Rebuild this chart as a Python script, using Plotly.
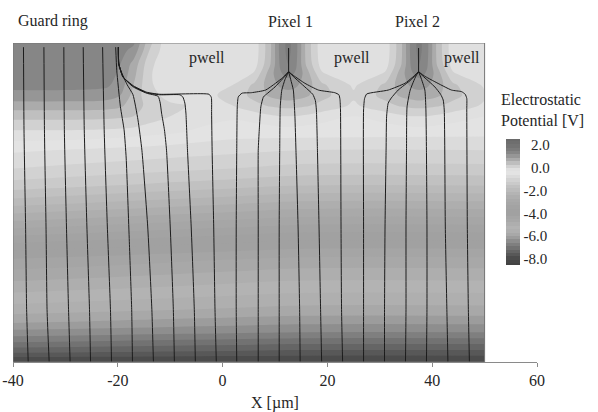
import plotly.graph_objects as go

# ---------------- data ----------------
# near-surface potential grid (x in um, depth in um from the top surface)
surface_x_um = [-40, -30, -22, -19.5, -17, -14, -10, -4, 2, 6, 9, 11, 12.5, 14, 16, 19,
                25, 31, 34, 36, 37.5, 39, 41, 44, 50]
surface_depth_um = [0, 1.5, 4, 6, 8, 10, 12, 14, 17]
surface_potential_v = [
    [1.4, 1.4, 1.4, 1.4, 1.25, 0.4, -0.3, -0.3, -0.3, -0.2, 0.5, 1.3, 1.6, 1.3, 0.5, -0.2, -0.3, -0.2, 0.5, 1.3, 1.6, 1.3, 0.5, -0.2, -0.3],
    [1.35, 1.35, 1.35, 1.3, 1.1, 0.3, -0.3, -0.3, -0.3, -0.2, 0.5, 1.3, 1.6, 1.3, 0.5, -0.2, -0.3, -0.2, 0.5, 1.3, 1.6, 1.3, 0.5, -0.2, -0.3],
    [1.3, 1.3, 1.3, 1.2, 0.8, 0.1, -0.3, -0.3, -0.3, -0.15, 0.55, 1.25, 1.5, 1.25, 0.55, -0.15, -0.3, -0.15, 0.55, 1.25, 1.5, 1.25, 0.55, -0.15, -0.3],
    [1.3, 1.3, 1.3, 1.15, 0.7, 0.05, -0.3, -0.3, -0.25, 0.05, 0.75, 1.15, 1.3, 1.15, 0.75, 0.05, -0.25, 0.05, 0.75, 1.15, 1.3, 1.15, 0.75, 0.05, -0.25],
    [1.3, 1.3, 1.25, 1.05, 0.6, 0.05, -0.2, -0.25, 0.0, 0.35, 0.75, 0.95, 1.0, 0.95, 0.75, 0.35, -0.05, 0.35, 0.75, 0.95, 1.0, 0.95, 0.75, 0.35, -0.05],
    [1.1, 1.1, 1.05, 0.9, 0.5, 0.1, -0.1, -0.1, 0.1, 0.4, 0.65, 0.75, 0.8, 0.75, 0.65, 0.4, 0.05, 0.4, 0.65, 0.75, 0.8, 0.75, 0.65, 0.4, 0.05],
    [0.75, 0.75, 0.72, 0.65, 0.45, 0.2, 0.05, -0.05, 0.0, 0.2, 0.33, 0.38, 0.4, 0.38, 0.33, 0.2, -0.05, 0.2, 0.33, 0.38, 0.4, 0.38, 0.33, 0.2, -0.05],
    [0.4, 0.4, 0.38, 0.35, 0.3, 0.15, 0.0, -0.2, -0.25, -0.15, -0.05, 0.0, 0.0, 0.0, -0.05, -0.15, -0.3, -0.15, -0.05, 0.0, 0.0, 0.0, -0.05, -0.15, -0.3],
    [-0.05, -0.05, -0.08, -0.1, -0.12, -0.18, -0.25, -0.35, -0.45, -0.5, -0.48, -0.45, -0.45, -0.45, -0.48, -0.5, -0.5, -0.5, -0.48, -0.45, -0.45, -0.45, -0.48, -0.5, -0.5],
]
# bulk potential (coarser in x)
bulk_x_um = [-40, -25, -10, 2, 15, 50]
bulk_depth_um = [17, 20.5, 24, 27, 30, 35, 38, 41.5, 47, 51, 53.3, 55.3, 57.2, 59.1, 61]
bulk_potential_v = [
    [-0.05, -0.07, -0.25, -0.45, -0.46, -0.5],
    [-0.55, -0.65, -0.74, -0.82, -0.9, -0.9],
    [-0.9, -1.01, -1.12, -1.2, -1.3, -1.3],
    [-1.3, -1.42, -1.55, -1.64, -1.75, -1.75],
    [-1.85, -1.99, -2.12, -2.23, -2.35, -2.35],
    [-2.9, -3.02, -3.15, -3.24, -3.35, -3.35],
    [-3.55, -3.66, -3.77, -3.85, -3.95, -3.95],
    [-4.25, -4.34, -4.44, -4.52, -4.6, -4.6],
    [-5.0, -5.08, -5.16, -5.23, -5.3, -5.3],
    [-5.55, -5.62, -5.69, -5.74, -5.8, -5.8],
    [-5.95, -6.02, -6.09, -6.14, -6.2, -6.2],
    [-6.4, -6.45, -6.51, -6.55, -6.6, -6.6],
    [-6.9, -6.95, -7.01, -7.05, -7.1, -7.1],
    [-7.45, -7.49, -7.53, -7.56, -7.6, -7.6],
    [-8.15, -8.15, -8.15, -8.15, -8.15, -8.15],
]

# grey scale of the colour bar (value in V -> grey)
scale_values_v = [-8.55, -8.0, -7.5, -7.1, -6.6, -6.2, -5.8, -5.3, -4.7, -4.0, -3.3, -2.7,
                  -2.2, -1.7, -1.3, -0.9, -0.6, -0.3, 0.0, 0.3, 0.6, 0.9, 1.2, 1.6, 2.0, 2.55]
scale_greys = ["#424242", "#4a4a4a", "#5e5e5e", "#707070", "#868686", "#9a9a9a", "#aaaaaa",
               "#b4b4b4", "#a9a9a9", "#a0a0a0", "#a4a4a4", "#ababab", "#b5b5b5", "#c0c0c0",
               "#cbcbcb", "#d6d6d6", "#e0e0e0", "#e6e6e6", "#d9d9d9", "#c8c8c8", "#b5b5b5",
               "#a0a0a0", "#8c8c8c", "#7c7c7c", "#727272", "#6a6a6a"]
colorbar_ticks = [2, 0, -2, -4, -6, -8]
colorbar_ticktext = ["\u20072.0", "\u20070.0", "-2.0", "-4.0", "-6.0", "-8.0"]

# electric field lines: (x um, depth um)
pixel_stems = [
    [(12.6, 0.96), (12.6, 5.5)],
    [(37.4, 0.96), (37.4, 5.5)],
]
guard_ring_lines = [
    [(-38.0, 0.8), (-37.9, 16.6), (-37.6, 35), (-37.4, 51), (-37.1, 61)],
    [(-34.1, 0.8), (-34.0, 16.6), (-33.7, 35), (-33.5, 51), (-33.1, 61)],
    [(-30.3, 0.8), (-30.2, 16.6), (-29.8, 35), (-29.4, 51), (-29.1, 61)],
    [(-26.6, 0.8), (-26.4, 16.6), (-25.9, 35), (-25.4, 51), (-25.2, 61)],
    [(-22.9, 0.8), (-22.6, 16.6), (-22.0, 35), (-21.4, 51), (-21.2, 61)],
    [(-20.4, 0.8), (-20.2, 5.2), (-19.5, 12.2), (-18.8, 16.6), (-18.4, 22), (-17.8, 38), (-17.35, 51), (-17.2, 61)],
    [(-19.9, 0.8), (-19.85, 4.0), (-19.25, 5.7), (-18.2, 8.0), (-17.1, 9.9), (-16.15, 14.7), (-15.4, 20.5), (-14.3, 35), (-13.5, 51), (-13.2, 61)],
    [(-19.9, 0.8), (-19.8, 4.0), (-19.0, 6.5), (-17.05, 8.4), (-14.5, 9.6), (-12.3, 10.2), (-11.9, 11.5), (-11.65, 13.4), (-11.1, 16.6), (-10.7, 20.5), (-10.0, 35), (-9.4, 51), (-9.2, 61)],
    [(-19.9, 0.8), (-19.8, 4.0), (-19.0, 6.5), (-17.0, 8.3), (-14.5, 9.5), (-12.0, 9.9), (-8.2, 9.9), (-7.6, 10.3), (-7.2, 11.5), (-7.0, 13.4), (-6.7, 20.5), (-6.0, 35), (-5.4, 51), (-5.2, 61)],
    [(-19.9, 0.8), (-19.8, 4.0), (-19.0, 6.5), (-17.0, 8.2), (-14.5, 9.4), (-12.0, 9.8), (-2.6, 9.8), (-2.15, 10.4), (-2.1, 13.4), (-2.0, 20.5), (-1.7, 35), (-1.45, 51), (-1.2, 61)],
]
pixel1_lines = [
    [(12.6, 5.5), (11.5, 6.6), (10.1, 7.7), (8.2, 9.0), (5.5, 9.5), (3.7, 9.6), (3.0, 10.3), (2.8, 12.2), (2.7, 20.5), (2.6, 35), (2.6, 51), (2.7, 61)],
    [(12.6, 5.5), (11.5, 6.8), (10.0, 8.4), (8.6, 9.6), (7.8, 10.3), (7.3, 12.2), (7.0, 16.6), (6.8, 20.5), (6.8, 35), (6.8, 51), (6.8, 61)],
    [(12.6, 5.5), (11.9, 7.0), (11.3, 9.0), (11.0, 12.2), (10.9, 20.5), (10.8, 35), (10.8, 51), (10.8, 61)],
    [(12.6, 5.5), (13.0, 7.0), (13.5, 9.0), (13.8, 14), (14.0, 20.5), (14.4, 35), (14.7, 51), (14.8, 61)],
    [(12.6, 5.5), (13.6, 6.5), (15.7, 8.4), (17.2, 9.8), (17.7, 11), (17.9, 12.8), (18.1, 20.5), (18.4, 35), (18.7, 51), (18.9, 61)],
    [(12.6, 5.5), (13.5, 6.2), (15.7, 7.7), (18.3, 9.0), (21.4, 9.5), (22.2, 9.9), (22.4, 10.8), (22.5, 12.8), (22.6, 35), (22.7, 51), (22.9, 61)],
]
pixel2_lines = [
    [(37.4, 5.5), (36.2, 6.6), (34.8, 7.7), (31.6, 9.0), (27.5, 9.75), (27.1, 10.6), (26.9, 12.8), (26.9, 35), (26.9, 51), (26.9, 61)],
    [(37.4, 5.5), (36.0, 7.0), (33.5, 9.0), (32.2, 10.5), (31.6, 11.5), (31.3, 14), (31.2, 20.5), (31.0, 35), (30.9, 51), (30.9, 61)],
    [(37.4, 5.5), (36.9, 6.3), (35.8, 9.0), (35.2, 12.2), (35.1, 20.5), (35.0, 35), (35.0, 51), (34.9, 61)],
    [(37.4, 5.5), (37.8, 6.5), (38.6, 9.0), (38.8, 12.8), (38.9, 20.5), (39.0, 35), (39.0, 51), (38.9, 61)],
    [(37.4, 5.5), (38.2, 6.3), (40.5, 8.4), (41.6, 9.8), (42.1, 10.9), (42.3, 12.8), (42.5, 35), (42.8, 51), (43.0, 61)],
    [(37.4, 5.5), (38.5, 6.3), (40.5, 7.4), (43.7, 9.0), (45.6, 9.3), (46.3, 9.8), (46.6, 10.6), (46.6, 12.8), (46.7, 35), (46.9, 51), (47.1, 61)],
]

x_ticks = [-40, -20, 0, 20, 40, 60]
x_ticktext = ["-40", "-20", "0", "20", "40", "60"]
top_labels = ["Guard ring", "Pixel 1", "Pixel 2"]
top_label_x = [-32.4, 12.9, 37.1]
pwell_x = [-2.9, 24.7, 45.6]

# ---------------- figure ----------------
FONT = "Liberation Serif"
TXT = "#262626"
level_start, level_end, level_step = -8.4, 2.4, 0.3
lo, hi = level_start - level_step / 2, level_end + level_step / 2
colorscale = [[(v - lo) / (hi - lo), g] for v, g in zip(scale_values_v, scale_greys)]
contours = dict(start=level_start, end=level_end, size=level_step, coloring="fill", showlines=False)

fig = go.Figure()
fig.add_trace(go.Contour(
    x=bulk_x_um, y=bulk_depth_um, z=bulk_potential_v,
    colorscale=colorscale, zmin=lo, zmax=hi, contours=contours,
    line=dict(width=0, smoothing=1), showscale=False, hoverinfo="skip",
))
fig.add_trace(go.Contour(
    x=surface_x_um, y=surface_depth_um, z=surface_potential_v,
    colorscale=colorscale, zmin=lo, zmax=hi, contours=contours,
    line=dict(width=0, smoothing=1),
    hoverinfo="skip",
    colorbar=dict(
        x=(506 - 13) / 524, xanchor="left", xpad=0,
        y=(362 - 202) / 319, yanchor="middle", ypad=0,
        len=126, lenmode="pixels", thickness=14, outlinewidth=0,
        tickvals=colorbar_ticks, ticktext=colorbar_ticktext, ticks="",
        tickfont=dict(family=FONT, size=15, color=TXT),
    ),
))

for group in (pixel_stems, guard_ring_lines, pixel1_lines, pixel2_lines):
    for line in group:
        fig.add_trace(go.Scatter(
            x=[p[0] for p in line], y=[p[1] for p in line], mode="lines",
            line=dict(color="#1c1c1c", width=1, shape="spline", smoothing=0.5),
            showlegend=False, hoverinfo="skip",
        ))

fig.add_shape(type="rect", x0=-40, x1=50, y0=0, y1=61, xref="x", yref="y",
              line=dict(color="#777777", width=1), fillcolor="rgba(0,0,0,0)")

for txt, xv in zip(top_labels, top_label_x):
    fig.add_annotation(x=xv, y=(362 - 21) / 319, xref="x", yref="paper", text=txt,
                       showarrow=False, font=dict(family=FONT, size=16, color=TXT),
                       xanchor="center", yanchor="middle")
for xv in pwell_x:
    fig.add_annotation(x=xv, y=2.9, xref="x", yref="y", text="pwell", showarrow=False,
                       font=dict(family=FONT, size=16, color=TXT),
                       xanchor="center", yanchor="middle")
fig.add_annotation(x=(499 - 13) / 524, y=(362 - 110) / 319, xref="paper", yref="paper",
                   text="Electrostatic<br>Potential [V]", showarrow=False, align="left",
                   font=dict(family=FONT, size=16, color=TXT), xanchor="left", yanchor="middle")

fig.update_layout(
    width=598, height=412,
    margin=dict(l=13, r=61, t=43, b=50, autoexpand=False),
    paper_bgcolor="white", plot_bgcolor="white",
    showlegend=False,
    xaxis=dict(range=[-40, 60], tickvals=x_ticks, ticktext=x_ticktext,
               ticks="outside", ticklen=4, tickcolor="#8a8a8a",
               showline=True, linecolor="#8a8a8a", linewidth=1,
               showgrid=False, zeroline=False, automargin=False,
               tickfont=dict(family=FONT, size=16, color=TXT),
               title=dict(text="X [µm]", font=dict(family=FONT, size=16, color=TXT), standoff=8)),
    yaxis=dict(range=[61, 0], visible=False, automargin=False),
)

fig.write_html("out.html")
